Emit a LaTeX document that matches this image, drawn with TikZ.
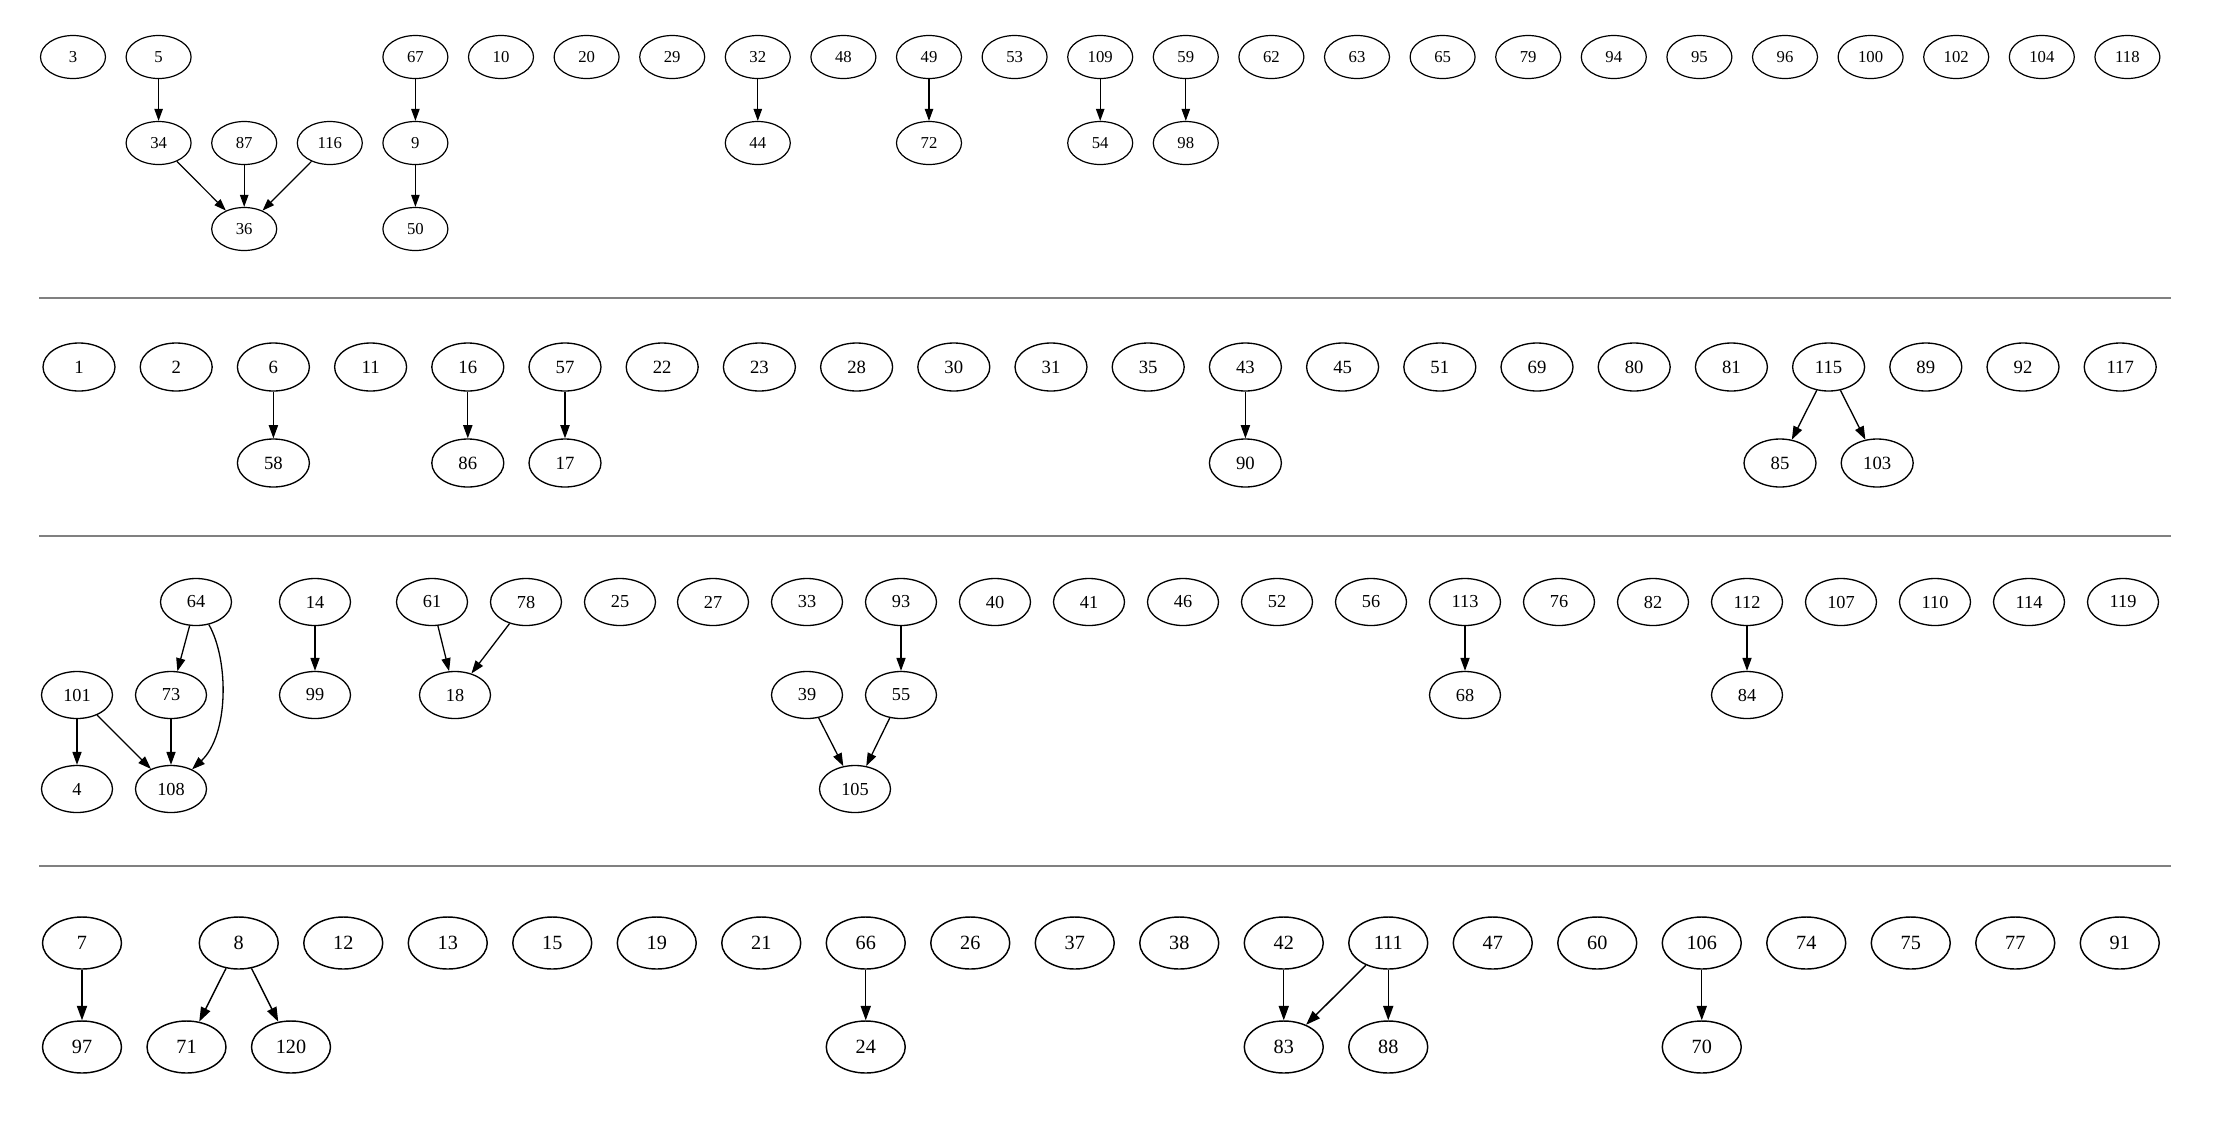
\documentclass[tikz,border=0pt]{standalone}
\usepackage{fontspec}
\setmainfont{Liberation Serif}
\usetikzlibrary{shapes.geometric,arrows.meta}
\tikzset{
  r1/.style={ellipse,draw,inner sep=0pt,minimum width=65pt,minimum height=43pt,line width=1.2pt,font=\fontsize{16.7}{17}\selectfont},
  r2/.style={ellipse,draw,inner sep=0pt,minimum width=72pt,minimum height=48pt,line width=1.33pt,font=\fontsize{18.7}{19}\selectfont},
  r3/.style={ellipse,draw,inner sep=0pt,minimum width=71pt,minimum height=47pt,line width=1.3pt,font=\fontsize{18.3}{19}\selectfont},
  r4/.style={ellipse,draw,inner sep=0pt,minimum width=79pt,minimum height=52pt,line width=1.44pt,font=\fontsize{20.2}{21}\selectfont},
  e1/.style={line width=1.2pt,-{Triangle[length=12pt,width=8.4pt]}},
  e2/.style={line width=1.33pt,-{Triangle[length=13.3pt,width=9.3pt]}},
  e3/.style={line width=1.3pt,-{Triangle[length=13pt,width=9.1pt]}},
  e4/.style={line width=1.44pt,-{Triangle[length=14.4pt,width=10.1pt]}},
  sep/.style={draw=black!50,line width=2.5pt}
}
\begin{document}
\begin{tikzpicture}[x=1pt,y=-1pt]
\useasboundingbox (0,0) rectangle (2214,1120);
% ---------- row 1 ----------
\foreach \n/\c in {3/0,5/1,67/4,10/5,20/6,29/7,32/8,48/9,49/10,53/11,109/12,59/13,62/14,63/15,65/16,79/17,94/18,95/19,96/20,100/21,102/22,104/23,118/24}
  \node[r1] (n\n) at ({73+85.6*\c},57) {\n};
\foreach \n/\c in {34/1,87/2,116/3,9/4,44/8,72/10,54/12,98/13}
  \node[r1] (n\n) at ({73+85.6*\c},143) {\n};
\foreach \n/\c in {36/2,50/4}
  \node[r1] (n\n) at ({73+85.6*\c},229) {\n};
\foreach \a/\b in {5/34,34/36,87/36,116/36,67/9,9/50,32/44,49/72,109/54,59/98}
  \draw[e1] (n\a) -- (n\b);
\coordinate (s1a) at (39,298); \coordinate (s1b) at (2171,298);
\draw[sep] (s1a) -- (s1b);
% ---------- row 2 ----------
\foreach \n/\c in {1/0,2/1,6/2,11/3,16/4,57/5,22/6,23/7,28/8,30/9,31/10,35/11,43/12,45/13,51/14,69/15,80/16,81/17,115/18,89/19,92/20,117/21}
  \node[r2] (n\n) at ({79+97.2*\c},367) {\n};
\foreach \n/\c in {58/2,86/4,17/5,90/12,85/17.5,103/18.5}
  \node[r2] (n\n) at ({79+97.2*\c},463) {\n};
\foreach \a/\b in {6/58,16/86,57/17,43/90,115/85,115/103}
  \draw[e2] (n\a) -- (n\b);
\coordinate (s2a) at (39,536); \coordinate (s2b) at (2171,536);
\draw[sep] (s2a) -- (s2b);
% ---------- row 3 ----------
\foreach \n/\x in {64/196,14/315,61/432,78/526,25/620,27/713,33/807,93/901,40/995,41/1089,46/1183,52/1277,56/1371,113/1465,76/1559,82/1653,112/1747,107/1841,110/1935,114/2029,119/2123}
  \node[r3] (n\n) at (\x,602) {\n};
\foreach \n/\x in {101/77,73/171,99/315,18/455,39/807,55/901,68/1465,84/1747}
  \node[r3] (n\n) at (\x,695) {\n};
\foreach \n/\x in {4/77,108/171,105/855}
  \node[r3] (n\n) at (\x,789) {\n};
\foreach \a/\b in {101/4,101/108,64/73,73/108,14/99,61/18,78/18,93/55,39/105,55/105,113/68,112/84}
  \draw[e3] (n\a) -- (n\b);
\draw[e3] (n64) .. controls (229,660) and (229,735) .. (n108);
\coordinate (s3a) at (39,866); \coordinate (s3b) at (2171,866);
\draw[sep] (s3a) -- (s3b);
% ---------- row 4 ----------
\foreach \n/\c in {7/0,8/1.5,12/2.5,13/3.5,15/4.5,19/5.5,21/6.5,66/7.5,26/8.5,37/9.5,38/10.5,42/11.5,111/12.5,47/13.5,60/14.5,106/15.5,74/16.5,75/17.5,77/18.5,91/19.5}
  \node[r4] (n\n) at ({82+104.5*\c},943) {\n};
\foreach \n/\c in {97/0,71/1,120/2,24/7.5,83/11.5,88/12.5,70/15.5}
  \node[r4] (n\n) at ({82+104.5*\c},1047) {\n};
\foreach \a/\b in {7/97,8/71,8/120,66/24,42/83,111/83,111/88,106/70}
  \draw[e4] (n\a) -- (n\b);
\end{tikzpicture}
\end{document}
